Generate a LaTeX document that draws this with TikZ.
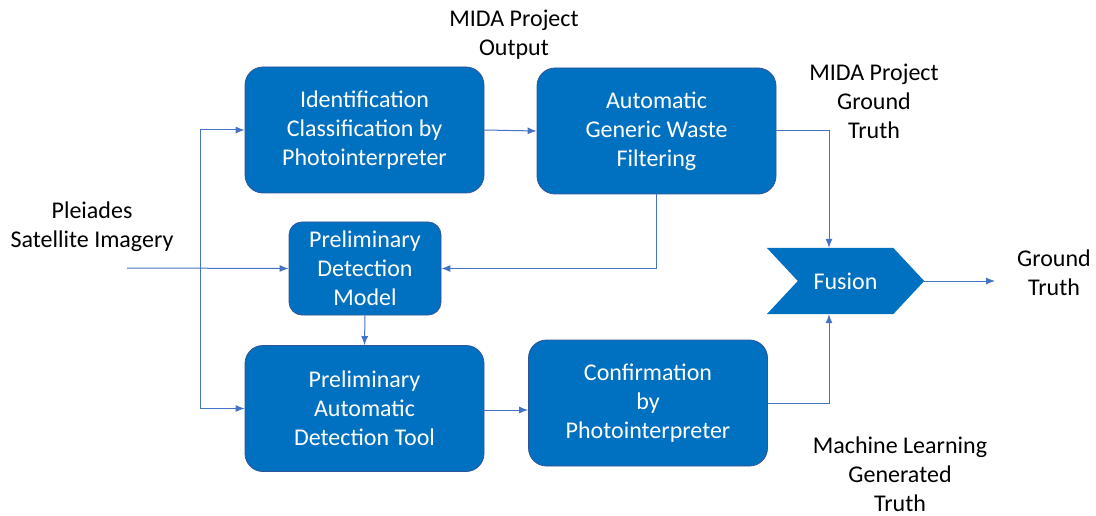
\documentclass[tikz,border=0pt]{standalone}
\usepackage{fontspec}
\setmainfont{Carlito}
\usetikzlibrary{arrows.meta}
\definecolor{boxblue}{HTML}{0070C0}
\definecolor{boxedge}{HTML}{2F5597}
\definecolor{linkblue}{HTML}{4472C4}
\begin{document}
\begin{tikzpicture}[x=1pt,y=-1pt,
  txt/.style={font=\fontsize{24}{29}\selectfont, align=center, inner sep=0pt},
  procbox/.style={txt, draw=boxedge, line width=0.8pt, fill=boxblue, text=white,
    rounded corners=18pt, minimum width=239pt, minimum height=126pt},
  smallbox/.style={procbox, rounded corners=13pt, minimum width=152pt, minimum height=93pt},
  link/.style={draw=linkblue, line width=1pt, -{Latex[length=9pt,width=7pt]}}
]
\useasboundingbox (0,0) rectangle (1096,516);

% process boxes
\node[procbox] (ident) at (364.5,130) {Identification\\Classification by\\Photointerpreter};
\node[procbox] (filter) at (656.5,131) {Automatic\\Generic Waste\\Filtering};
\node[smallbox] (model) at (365,268.5) {Preliminary\\Detection\\Model};
\node[procbox] (tool) at (364.5,408.5) {Preliminary\\Automatic\\Detection Tool};
\node[procbox] (confirm) at (648,403) {Confirmation\\by\\Photointerpreter};

% fusion chevron
\node[minimum width=157pt, minimum height=66pt, inner sep=0pt] (fusion) at (845.5,281) {};
\fill[boxblue] (fusion.north west) -- ([xshift=-31pt]fusion.north east) -- (fusion.east)
  -- ([xshift=-31pt]fusion.south east) -- (fusion.south west) -- ([xshift=31pt]fusion.west) -- cycle;
\node[txt, text=white] (fusionlabel) at (fusion.center) {Fusion};

% free labels
\node[txt] (pleiades) at (92,227) {Pleiades\\Satellite Imagery};
\node[txt] (midaout) at (514,35) {MIDA Project\\Output};
\node[txt] (midagt) at (874,101.5) {MIDA Project\\Ground\\Truth};
\node[txt] (gt) at (1054,272.5) {Ground\\Truth};
\node[txt] (mlgt) at (900,474) {Machine Learning\\Generated\\Truth};

% connector end points
\coordinate (in) at (127,268);
\coordinate (split) at (200,268);
\coordinate (out) at (995,281);
\coordinate (fusiontop) at ([xshift=-16.5pt]fusion.north);
\coordinate (fusionbot) at ([xshift=-16.5pt]fusion.south);

% connectors
\draw[link] (in) -- (model.west);
\draw[link] (split) |- (ident.west);
\draw[link] (split) |- (tool.west);
\draw[link] (ident.east) -- (filter.west);
\draw[link] (filter.east) -| (fusiontop);
\draw[link] (filter.south) |- (model.east);
\draw[link] (model.south) -- (tool.north);
\draw[link] ([yshift=-1.5pt]tool.east) -- ([yshift=-7pt]confirm.west);
\draw[link] (confirm.east) -| (fusionbot);
\draw[link] (fusion.east) -- (out);
\end{tikzpicture}
\end{document}
